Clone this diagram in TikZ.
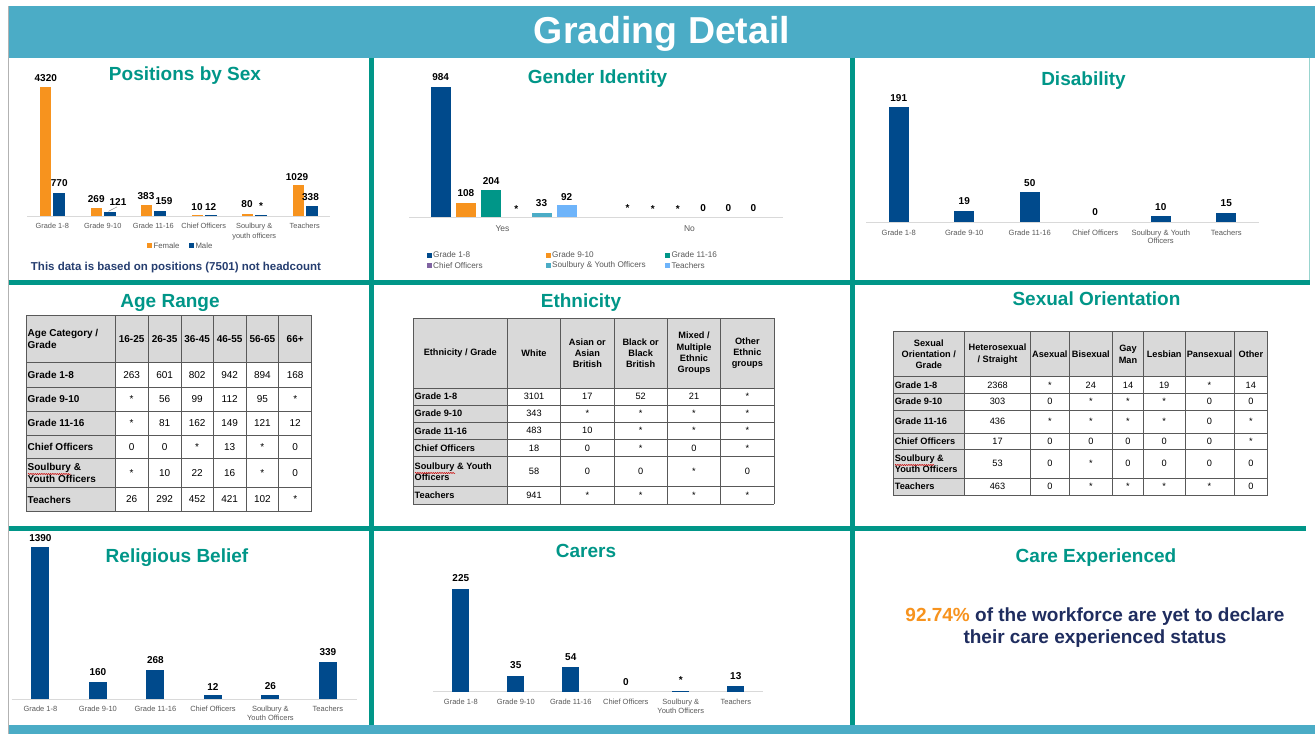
\documentclass[tikz,border=0pt]{standalone}
\usepackage{fontspec}
\setmainfont{Liberation Sans}
\usetikzlibrary{decorations.pathmorphing}
\definecolor{gTeal}{RGB}{0,150,136}
\definecolor{gBanner}{RGB}{75,172,198}
\definecolor{gNavy}{RGB}{0,74,140}
\definecolor{gOrange}{RGB}{247,147,30}
\definecolor{gPurple}{RGB}{128,100,162}
\definecolor{gLtTeal}{RGB}{75,172,198}
\definecolor{gLtBlue}{RGB}{110,180,250}
\definecolor{gCat}{RGB}{89,89,89}
\definecolor{gAxis}{RGB}{217,217,217}
\definecolor{gTab}{RGB}{217,217,217}
\definecolor{gFoot}{RGB}{38,62,112}
\definecolor{gCare}{RGB}{31,45,95}
\begin{document}
\begin{tikzpicture}[x=1pt,y=-1pt,
  ttl/.style={font=\fontsize{19}{23}\selectfont\bfseries, text=gTeal, anchor=base, inner sep=0},
  val/.style={font=\fontsize{10}{12}\selectfont\bfseries, text=black, inner sep=0},
  cat/.style={font=\fontsize{7.5}{8.7}\selectfont, text=gCat, align=center, anchor=north, inner sep=0},
  leg/.style={font=\fontsize{8.2}{10}\selectfont, text=gCat, anchor=west, inner sep=0},
  axisline/.style={draw=gAxis, line width=0.9pt},
  gridline/.style={draw=gTeal, line width=5pt},
  tline/.style={draw=black!65, line width=0.7pt},
  squig/.style={draw=red!80!black, line width=0.5pt, decorate, decoration={snake, amplitude=0.6pt, segment length=2.2pt}},
  agehd/.style={font=\fontsize{10}{12.3}\selectfont\bfseries, align=center, inner sep=0},
  agetx/.style={font=\fontsize{10}{12.3}\selectfont, inner sep=0},
  tabhd/.style={font=\fontsize{9.2}{11.3}\selectfont\bfseries, align=center, inner sep=0},
  tabtx/.style={font=\fontsize{9.2}{11.3}\selectfont, inner sep=0}
]
\useasboundingbox (0,0) rectangle (1315,734);
\fill[white] (0,0) rectangle (1315,734);

% ---------- frame ----------
\fill[gBanner] (8.5,6) rectangle (1315,57.5);
\fill[gBanner] (8.5,725) rectangle (1315,734);
\draw[black!30, line width=0.8pt] (8.5,6) -- (8.5,734);
\draw[gTeal!40, line width=1pt] (1309.5,57.5) -- (1309.5,282);
\draw[gridline] (8.5,282) -- (1310,282);
\draw[gridline] (8.5,528) -- (1306,528);
\draw[gridline] (371.7,57.5) -- (371.7,725);
\draw[gridline] (852.7,57.5) -- (852.7,725);
\node[font=\fontsize{37.5}{45}\selectfont\bfseries, text=white, anchor=base, inner sep=0] (hdr) at (662,43) {Grading Detail};

% ---------- titles ----------
\node[ttl] (t1) at (185,80) {Positions by Sex};
\node[ttl] (t2) at (597.5,83) {Gender Identity};
\node[ttl] (t3) at (1083.5,85) {Disability};
\node[ttl] (t4) at (170,307) {Age Range};
\node[ttl] (t5) at (581,307) {Ethnicity};
\node[ttl] (t6) at (1096.5,305) {Sexual Orientation};
\node[ttl] (t7) at (177,562) {Religious Belief};
\node[ttl] (t8) at (586,557) {Carers};
\node[ttl] (t9) at (1096,562) {Care Experienced};

% ---------- Positions by Sex ----------
\draw[axisline] (27,216) -- (330,216);
\foreach \c/\fh/\mh in {52.25/128.7/22.9,102.75/8/3.6,153.25/11.4/4.7,203.75/0.8/0.8,254.25/2.4/0.8,304.75/30.7/10.1}{
  \fill[gOrange] (\c-12,216) rectangle (\c-1,216-\fh);
  \fill[gNavy] (\c+1,216) rectangle (\c+13,216-\mh);
}
\foreach \x/\y/\t [count=\i] in {45.8/77.7/4320,59.25/183.3/770,96.25/199/269,118/201.7/121,146/196/383,164/201/159,197/206.7/10,210.7/206.7/12,247/204/80,261/206/*,297/176.7/1029,310.5/196.7/338}
  \node[val] (psv\i) at (\x,\y) {\t};
\coordinate (psl) at (108.5,211.3);
\draw[gCat!70, line width=0.5pt] (psl) -- ([shift={(-1,1.5)}]psv4.south);
\foreach \c/\t [count=\i] in {52.25/Grade 1-8,102.75/Grade 9-10,153.25/Grade 11-16,203.75/Chief Officers,254.25/{Soulbury \&\\youth officers},304.75/Teachers}
  \node[cat, font=\fontsize{7.4}{9.7}\selectfont] (psc\i) at (\c,223.3) {\t};
\fill[gOrange] (146.7,243.2) rectangle (151.7,248.2);
\node[leg, font=\fontsize{7.8}{9}\selectfont] (psf) at (153.3,245.7) {Female};
\fill[gNavy] (189,243.2) rectangle (194,248.2);
\node[leg, font=\fontsize{7.8}{9}\selectfont] (psm) at (195.3,245.7) {Male};
\node[font=\fontsize{11.5}{14}\selectfont\bfseries, text=gFoot, inner sep=0] (psn) at (176,268) {This data is based on positions (7501) not headcount};

% ---------- Gender Identity ----------
\draw[axisline] (409,217.3) -- (783,217.3);
\fill[gNavy] (430.7,217.3) rectangle (450.7,87.3);
\fill[gOrange] (455.9,217.3) rectangle (475.9,203);
\fill[gTeal] (481.1,217.3) rectangle (501.1,190.3);
\fill[gLtTeal] (531.5,217.3) rectangle (551.5,212.9);
\fill[gLtBlue] (556.7,217.3) rectangle (576.7,205.1);
\foreach \x/\y/\t [count=\i] in {440.7/76.7/984,465.9/193.3/108,491.1/181/204,516.3/208.7/*,541.5/203.3/33,566.7/196.7/92,627.5/207.7/*,652.7/209.2/*,677.9/209.2/*,703.1/207.7/0,728.3/207.7/0,753.5/207.7/0}
  \node[val] (giv\i) at (\x,\y) {\t};
\node[font=\fontsize{8.5}{10}\selectfont, text=gCat, inner sep=0] (giy) at (502.5,228.3) {Yes};
\node[font=\fontsize{8.5}{10}\selectfont, text=gCat, inner sep=0] (gin) at (689.5,228.3) {No};
\foreach \x/\y/\col/\t [count=\i] in {426.7/255/gNavy/Grade 1-8,545.7/255/gOrange/Grade 9-10,665/255/gTeal/Grade 11-16,426.7/265.7/gPurple/Chief Officers,545.7/265.7/gLtTeal/Soulbury \& Youth Officers,665/265.7/gLtBlue/Teachers}{
  \fill[\col] (\x,\y-2.5) rectangle (\x+5,\y+2.5);
  \node[leg] (gil\i) at (\x+6.3,\y) {\t};
}

% ---------- Disability ----------
\draw[axisline] (866,222.3) -- (1259,222.3);
\foreach \c/\h in {898.75/115,964.25/11.4,1029.75/30.1,1160.75/6,1226.25/9}
  \fill[gNavy] (\c-10,222.3) rectangle (\c+10,222.3-\h);
\foreach \x/\y/\t [count=\i] in {898.75/97.7/191,964.25/201/19,1029.75/182.7/50,1095.25/212.3/0,1160.75/206.7/10,1226.25/203.3/15}
  \node[val] (dv\i) at (\x,\y) {\t};
\foreach \c/\t [count=\i] in {898.75/Grade 1-8,964.25/Grade 9-10,1029.75/Grade 11-16,1095.25/Chief Officers,1160.75/{Soulbury \& Youth\\Officers},1226.25/Teachers}
  \node[cat, font=\fontsize{7.6}{8.5}\selectfont] (dc\i) at (\c,229.6) {\t};

% ---------- Age Range table ----------
\fill[gTab] (26,315) rectangle (311.7,362.7);
\fill[gTab] (26,362.7) rectangle (115,511.7);
\foreach \x in {26,115,148.3,181,213.3,246,278.7,311.7} \draw[tline] (\x,315) -- (\x,511.7);
\foreach \y in {315,362.7,387.3,411,435,458.3,487.3,511.7} \draw[tline] (26,\y) -- (311.7,\y);
\node[agehd, anchor=west, align=left] (ah0) at (27.5,338.85) {Age Category /\\Grade};
\foreach \x/\t [count=\j] in {131.65/16-25,164.65/26-35,197.15/36-45,229.65/46-55,262.35/56-65,295.2/66+}
  \node[agehd] (ah\j) at (\x,338.85) {\t};
\foreach \y/\lab/\vals [count=\i] in {375/Grade 1-8/{263,601,802,942,894,168},399.15/Grade 9-10/{*,56,99,112,95,*},423/Grade 11-16/{*,81,162,149,121,12},446.65/Chief Officers/{0,0,*,13,*,0},472.8/{Soulbury \&\\Youth Officers}/{*,10,22,16,*,0},499.5/Teachers/{26,292,452,421,102,*}}{
  \node[agehd, anchor=west, align=left] (ar\i) at (27.5,\y) {\lab};
  \foreach \v [count=\j] in \vals {
    \pgfmathsetmacro\xx{{131.65,164.65,197.15,229.65,262.35,295.2}[\j-1]}
    \node[agetx] (ac\i-\j) at (\xx,\y) {\v};
  }
}
\draw[squig] (28,474) -- (71,474);

% ---------- Ethnicity table ----------
\fill[gTab] (413.3,318.3) rectangle (774,388.3);
\fill[gTab] (413.3,388.3) rectangle (507.3,504);
\foreach \x in {413.3,507.3,560.7,614,667.3,720.7,774} \draw[tline] (\x,318.3) -- (\x,504);
\foreach \y in {318.3,388.3,405,422.3,439.3,456.7,486.7,504} \draw[tline] (413.3,\y) -- (774,\y);
\node[tabhd] (eh0) at (460.3,353.3) {Ethnicity / Grade};
\node[tabhd] (eh1) at (534,353.3) {White};
\node[tabhd] (eh2) at (587.35,353.3) {Asian or\\Asian\\British};
\node[tabhd] (eh3) at (640.65,353.3) {Black or\\Black\\British};
\node[tabhd] (eh4) at (694,353.3) {Mixed /\\Multiple\\Ethnic\\Groups};
\node[tabhd] (eh5) at (747.35,353.3) {Other\\Ethnic\\groups};
\foreach \y/\lab/\vals [count=\i] in {396.65/Grade 1-8/{3101,17,52,21,*},413.65/Grade 9-10/{343,*,*,*,*},430.8/Grade 11-16/{483,10,*,*,*},448/Chief Officers/{18,0,*,0,*},471.7/{Soulbury \& Youth\\Officers}/{58,0,0,*,0},495.35/Teachers/{941,*,*,*,*}}{
  \node[tabhd, anchor=west, align=left] (er\i) at (414.5,\y) {\lab};
  \foreach \v [count=\j] in \vals {
    \pgfmathsetmacro\xx{{534,587.35,640.65,694,747.35}[\j-1]}
    \node[tabtx] (ec\i-\j) at (\xx,\y) {\v};
  }
}
\draw[squig] (415,473) -- (455,473);

% ---------- Sexual Orientation table ----------
\fill[gTab] (893.3,331.7) rectangle (1267.7,376.7);
\fill[gTab] (893.3,376.7) rectangle (964.3,495);
\foreach \x in {893.3,964.3,1030.7,1069,1112.7,1143.3,1185,1234,1267.7} \draw[tline] (\x,331.7) -- (\x,495);
\foreach \y in {331.7,376.7,393.3,410,433.3,449.3,478.3,495} \draw[tline] (893.3,\y) -- (1267.7,\y);
\node[tabhd] (sh0) at (928.8,354.2) {Sexual\\Orientation /\\Grade};
\node[tabhd] (sh1) at (997.5,354.2) {Heterosexual\\/ Straight};
\node[tabhd] (sh2) at (1049.85,354.2) {Asexual};
\node[tabhd] (sh3) at (1090.85,354.2) {Bisexual};
\node[tabhd] (sh4) at (1128,354.2) {Gay\\Man};
\node[tabhd] (sh5) at (1164.15,354.2) {Lesbian};
\node[tabhd] (sh6) at (1209.5,354.2) {Pansexual};
\node[tabhd] (sh7) at (1250.85,354.2) {Other};
\foreach \y/\lab/\vals [count=\i] in {385/Grade 1-8/{2368,*,24,14,19,*,14},401.65/Grade 9-10/{303,0,*,*,*,0,0},421.65/Grade 11-16/{436,*,*,*,*,0,*},441.3/Chief Officers/{17,0,0,0,0,0,*},463.8/{Soulbury \&\\Youth Officers}/{53,0,*,0,0,0,0},486.65/Teachers/{463,0,*,*,*,*,0}}{
  \node[tabhd, anchor=west, align=left] (sr\i) at (894.6,\y) {\lab};
  \foreach \v [count=\j] in \vals {
    \pgfmathsetmacro\xx{{997.5,1049.85,1090.85,1128,1164.15,1209.5,1250.85}[\j-1]}
    \node[tabtx] (sc\i-\j) at (\xx,\y) {\v};
  }
}
\draw[squig] (895,465) -- (934,465);

% ---------- Religious Belief ----------
\draw[axisline] (11.7,699) -- (356.7,699);
\foreach \c/\h in {40.4/151.7,97.9/17.5,155.4/29.2,212.9/4,270.4/4.5,327.9/37}
  \fill[gNavy] (\c-9,699) rectangle (\c+9,699-\h);
\foreach \x/\y/\t [count=\i] in {40.4/537.7/1390,97.9/671.7/160,155.4/660/268,212.9/687.3/12,270.4/686/26,327.9/651.7/339}
  \node[val] (rv\i) at (\x,\y) {\t};
\foreach \c/\t [count=\i] in {40.4/Grade 1-8,97.9/Grade 9-10,155.4/Grade 11-16,212.9/Chief Officers,270.4/{Soulbury \&\\Youth Officers},327.9/Teachers}
  \node[cat] (rc\i) at (\c,706.3) {\t};

% ---------- Carers ----------
\draw[axisline] (433.3,691.7) -- (763.3,691.7);
\foreach \c/\h in {460.8/102.3,515.8/15.9,570.8/24.6,680.8/1.2,735.8/5.9}
  \fill[gNavy] (\c-8.5,691.7) rectangle (\c+8.5,691.7-\h);
\foreach \x/\y/\t [count=\i] in {460.8/578.3/225,515.8/665/35,570.8/657/54,625.8/681.7/0,680.8/680.3/*,735.8/676/13}
  \node[val] (cv\i) at (\x,\y) {\t};
\foreach \c/\t [count=\i] in {460.8/Grade 1-8,515.8/Grade 9-10,570.8/Grade 11-16,625.8/Chief Officers,680.8/{Soulbury \&\\Youth Officers},735.8/Teachers}
  \node[cat] (cc\i) at (\c,699) {\t};

% ---------- Care Experienced ----------
\node[font=\fontsize{19}{21.7}\selectfont\bfseries, text=gCare, align=center, inner sep=0] (care) at (1095,627.5)
  {\textcolor{gOrange}{92.74\%} of the workforce are yet to declare\\their care experienced status};
\end{tikzpicture}
\end{document}
